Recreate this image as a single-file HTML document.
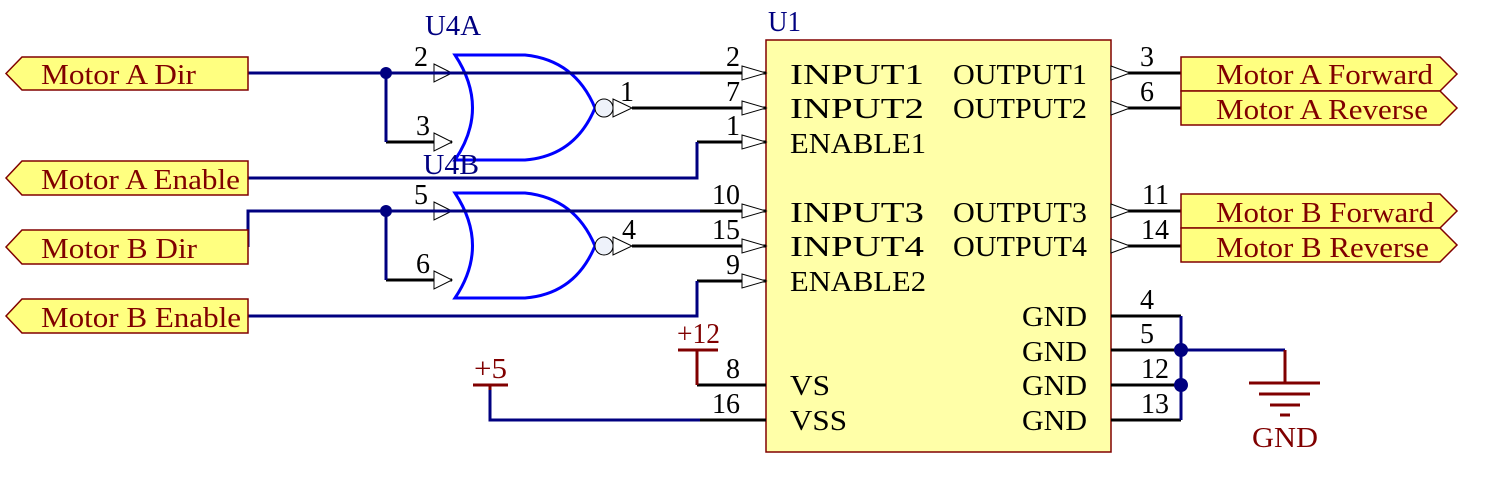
<!DOCTYPE html>
<html><head><meta charset="utf-8"><style>
html,body{margin:0;padding:0;background:#fff;}
svg{display:block}
text{font-family:"Liberation Serif",serif;}
</style></head><body>
<svg width="1498" height="477" viewBox="0 0 1498 477" xmlns="http://www.w3.org/2000/svg">
<rect x="766" y="40" width="345" height="412" fill="#ffffa8" stroke="#800000" stroke-width="1.5"/>
<text x="768" y="31" font-size="28" fill="#000080" textLength="33" lengthAdjust="spacingAndGlyphs">U1</text>
<g font-size="29" fill="#000" lengthAdjust="spacingAndGlyphs">
<text x="790" y="84" textLength="134" lengthAdjust="spacingAndGlyphs">INPUT1</text>
<text x="790" y="118" textLength="134" lengthAdjust="spacingAndGlyphs">INPUT2</text>
<text x="790" y="153" textLength="136" lengthAdjust="spacingAndGlyphs">ENABLE1</text>
<text x="790" y="222" textLength="134" lengthAdjust="spacingAndGlyphs">INPUT3</text>
<text x="790" y="256" textLength="134" lengthAdjust="spacingAndGlyphs">INPUT4</text>
<text x="790" y="291" textLength="136" lengthAdjust="spacingAndGlyphs">ENABLE2</text>
<text x="790" y="395" textLength="40" lengthAdjust="spacingAndGlyphs">VS</text>
<text x="790" y="430" textLength="57" lengthAdjust="spacingAndGlyphs">VSS</text>
<text x="953" y="84" textLength="134" lengthAdjust="spacingAndGlyphs">OUTPUT1</text>
<text x="953" y="118" textLength="134" lengthAdjust="spacingAndGlyphs">OUTPUT2</text>
<text x="953" y="222" textLength="134" lengthAdjust="spacingAndGlyphs">OUTPUT3</text>
<text x="953" y="256" textLength="134" lengthAdjust="spacingAndGlyphs">OUTPUT4</text>
<text x="1022" y="326" textLength="65" lengthAdjust="spacingAndGlyphs">GND</text>
<text x="1022" y="361" textLength="65" lengthAdjust="spacingAndGlyphs">GND</text>
<text x="1022" y="395" textLength="65" lengthAdjust="spacingAndGlyphs">GND</text>
<text x="1022" y="430" textLength="65" lengthAdjust="spacingAndGlyphs">GND</text>
</g>
<g stroke="#000" stroke-width="3">
<line x1="700" y1="73" x2="766" y2="73"/><line x1="632" y1="108" x2="766" y2="108"/><line x1="697" y1="142" x2="766" y2="142"/>
<line x1="700" y1="211" x2="766" y2="211"/><line x1="632" y1="246" x2="766" y2="246"/><line x1="697" y1="281" x2="766" y2="281"/>
<line x1="697" y1="385" x2="766" y2="385"/><line x1="700" y1="420" x2="766" y2="420"/>
<line x1="1111" y1="73" x2="1181" y2="73"/><line x1="1111" y1="108" x2="1181" y2="108"/>
<line x1="1111" y1="211" x2="1181" y2="211"/><line x1="1111" y1="246" x2="1181" y2="246"/>
<line x1="1111" y1="316" x2="1181" y2="316"/><line x1="1111" y1="350" x2="1181" y2="350"/>
<line x1="1111" y1="385" x2="1181" y2="385"/><line x1="1111" y1="420" x2="1181" y2="420"/>
<line x1="386" y1="142" x2="452" y2="142"/><line x1="386" y1="280" x2="452" y2="280"/>
</g>
<g fill="#fff" stroke="#000" stroke-width="1">
<polygon points="742,66 766,73 742,80"/><polygon points="742,101 766,108 742,115"/><polygon points="742,135 766,142 742,149"/>
<polygon points="742,204 766,211 742,218"/><polygon points="742,239 766,246 742,253"/><polygon points="742,274 766,281 742,288"/>
<polygon points="1111,66 1130,73 1111,80"/><polygon points="1111,101 1130,108 1111,115"/>
<polygon points="1111,204 1130,211 1111,218"/><polygon points="1111,239 1130,246 1111,253"/>
<polygon points="434,64 452,73 434,82"/><polygon points="434,133 452,142 434,151"/>
<polygon points="434,202 452,211 434,220"/><polygon points="434,271 452,280 434,289"/>
<polygon points="613,99 632,108 613,117"/><polygon points="613,237 632,246 613,255"/>
</g>
<g font-size="28" fill="#000" text-anchor="end">
<text x="740" y="66">2</text><text x="740" y="101">7</text><text x="740" y="135">1</text>
<text x="740" y="204">10</text><text x="740" y="239">15</text><text x="740" y="274">9</text>
<text x="740" y="378">8</text><text x="740" y="413">16</text>
<text x="1154" y="66">3</text><text x="1154" y="101">6</text><text x="1169" y="204">11</text><text x="1169" y="239">14</text>
<text x="1154" y="309">4</text><text x="1154" y="343">5</text><text x="1169" y="378">12</text><text x="1169" y="413">13</text>
<text x="428" y="66">2</text><text x="430" y="135">3</text><text x="428" y="204">5</text><text x="430" y="273">6</text>
<text x="634" y="101">1</text><text x="636" y="239">4</text>
</g>
<g fill="#fff" stroke="#0000ff" stroke-width="3">
<path d="M455,55 L525,55 Q575,60 595,108 Q575,156 525,160 L455,160 Q490,108 455,55 Z"/>
<path d="M455,193 L525,193 Q575,198 595,246 Q575,294 525,298 L455,298 Q490,246 455,193 Z"/>
</g>
<g fill="#eef2fa" stroke="#000" stroke-width="1"><circle cx="604" cy="108" r="9"/><circle cx="604" cy="246" r="9"/></g>
<text x="425" y="35" font-size="28" fill="#000080" textLength="56" lengthAdjust="spacingAndGlyphs">U4A</text>
<text x="423" y="174" font-size="28" fill="#000080" textLength="56" lengthAdjust="spacingAndGlyphs">U4B</text>
<g stroke="#000080" stroke-width="3" fill="none">
<polyline points="248,73 700,73"/>
<polyline points="386,73 386,142"/>
<polyline points="248,178 697,178 697,142"/>
<polyline points="248,247 248,211 700,211"/>
<polyline points="386,211 386,280"/>
<polyline points="248,316 697,316 697,281"/>
<polyline points="490,385 490,420 700,420"/>
<polyline points="1181,316 1181,420"/>
<polyline points="1181,350 1285,350"/>
</g>
<g fill="#000080"><circle cx="386" cy="73" r="6"/><circle cx="386" cy="211" r="6"/><circle cx="1181" cy="350" r="7"/><circle cx="1181" cy="385" r="7"/></g>
<g stroke="#800000" stroke-width="3">
<line x1="1285" y1="350" x2="1285" y2="383"/>
<line x1="1249" y1="383" x2="1320" y2="383"/><line x1="1259" y1="394" x2="1310" y2="394"/>
<line x1="1270" y1="405" x2="1300" y2="405"/><line x1="1280" y1="415" x2="1290" y2="415"/>
<line x1="678" y1="350" x2="718" y2="350"/><line x1="697" y1="350" x2="697" y2="385"/>
<line x1="473" y1="385" x2="508" y2="385"/><line x1="490" y1="385" x2="490" y2="390"/>
</g>
<g font-size="28" fill="#800000">
<text x="1252" y="447" textLength="66" lengthAdjust="spacingAndGlyphs">GND</text>
<text x="677" y="343" textLength="43" lengthAdjust="spacingAndGlyphs">+12</text>
<text x="474" y="378" textLength="33" lengthAdjust="spacingAndGlyphs">+5</text>
</g>
<g fill="#ffff80" stroke="#800000" stroke-width="1.5">
<polygon points="6,73.5 22,57 248,57 248,90 22,90"/>
<polygon points="6,178 22,161 248,161 248,195 22,195"/>
<polygon points="6,247 22,230 248,230 248,264 22,264"/>
<polygon points="6,316 22,299 248,299 248,333 22,333"/>
<polygon points="1181,57 1440,57 1457,74 1440,91 1181,91"/>
<polygon points="1181,91 1440,91 1457,108 1440,125 1181,125"/>
<polygon points="1181,194 1440,194 1457,211 1440,228 1181,228"/>
<polygon points="1181,228 1440,228 1457,245 1440,262 1181,262"/>
</g>
<g font-size="29" fill="#800000">
<text x="41" y="84" textLength="155" lengthAdjust="spacingAndGlyphs">Motor A Dir</text>
<text x="41" y="189" textLength="199" lengthAdjust="spacingAndGlyphs">Motor A Enable</text>
<text x="41" y="258" textLength="156" lengthAdjust="spacingAndGlyphs">Motor B Dir</text>
<text x="41" y="327" textLength="200" lengthAdjust="spacingAndGlyphs">Motor B Enable</text>
<text x="1216" y="84" textLength="217" lengthAdjust="spacingAndGlyphs">Motor A Forward</text>
<text x="1216" y="119" textLength="212" lengthAdjust="spacingAndGlyphs">Motor A Reverse</text>
<text x="1216" y="222" textLength="218" lengthAdjust="spacingAndGlyphs">Motor B Forward</text>
<text x="1216" y="257" textLength="213" lengthAdjust="spacingAndGlyphs">Motor B Reverse</text>
</g>
</svg>
</body></html>
